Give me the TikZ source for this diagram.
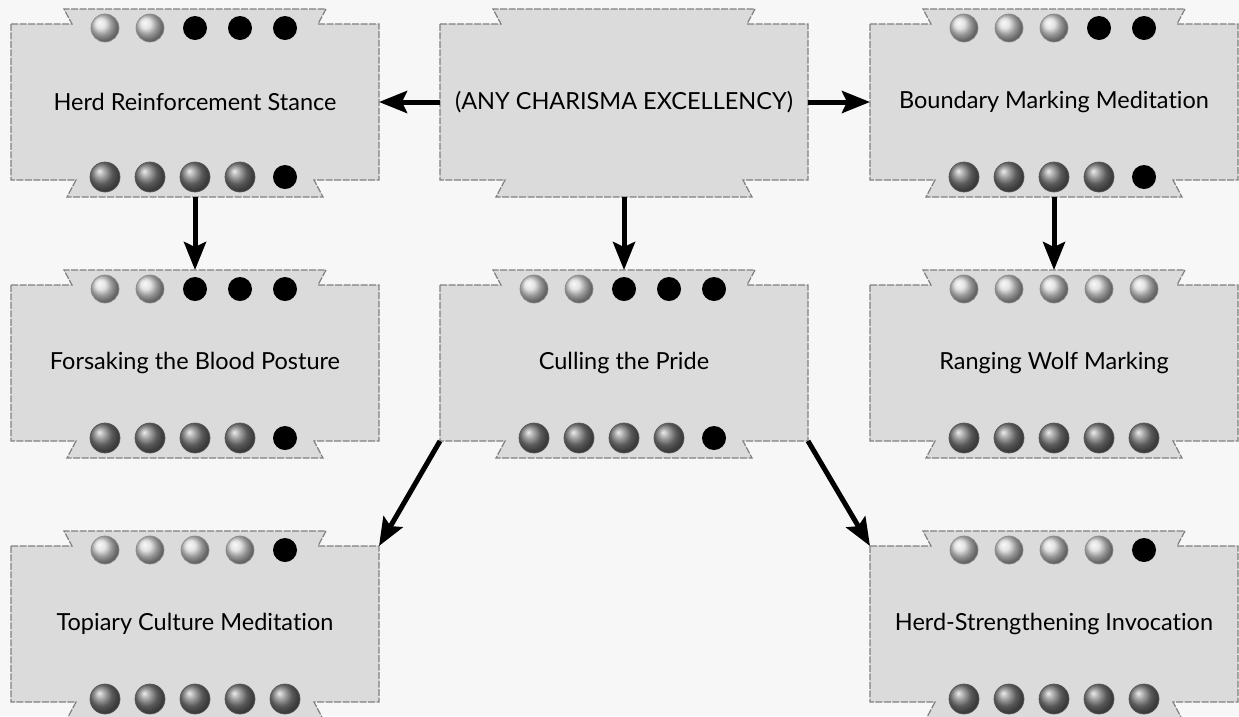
\documentclass[tikz,border=0pt]{standalone}
\usepackage{fontspec}
\usetikzlibrary{arrows.meta,calc}
\newfontfamily\charmfont[Ligatures=NoCommon]{Lato}
\begin{document}
\begin{tikzpicture}[x=1pt, y=-1pt, >={Stealth[length=28pt,width=22pt,inset=5pt]},
  charmbox/.style={draw=none, minimum width=368pt, minimum height=156pt, inner sep=0pt, outer sep=0pt, font=\charmfont\fontsize{23.5}{28}\selectfont},
  charmedge/.style={draw=black!50, line width=1.2pt, dash pattern=on 7pt off 1.5pt, fill=black!14},
  flow/.style={->, line width=5pt},
  lightdot/.style={ball color=black!15, draw=black!45, line width=0.7pt},
  darkdot/.style={ball color=black!50, draw=black!65, line width=0.7pt}]
	\fill[black!3] (0,0) rectangle (1239,716);
	\useasboundingbox (0,0) rectangle (1239,716);
	
	% charm boxes with their top and bottom tabs
	\foreach \n/\x/\y/\t in {hrs/195/102/Herd Reinforcement Stance, any/624/102/{(ANY CHARISMA EXCELLENCY)}, bmm/1054/102/Boundary Marking Meditation, fbp/195/363/Forsaking the Blood Posture, ctp/624/363/Culling the Pride, rwm/1054/363/Ranging Wolf Marking, tcm/195/624/Topiary Culture Meditation, hsi/1054/624/Herd-Strengthening Invocation} {
		\begin{scope}[shift={(\x,\y)}]
			\path[charmedge] (-184,-78) -- (-123,-78) -- (-131,-93) -- (131,-93) -- (123,-78) -- (184,-78) -- (184,78) -- (119,78) -- (128,95) -- (-128,95) -- (-119,78) -- (-184,78) -- cycle;
			\coordinate (\n-top) at (0,-93);
			\coordinate (\n-bot) at (0,95);
		\end{scope}
		\node[charmbox] (\n) at (\x,\y) {\t};
	}
	
	% dots: first \a on top are light, first \b below are dark, the rest black
	\foreach \n/\a/\b in {hrs/2/4, bmm/3/4, fbp/2/4, ctp/2/4, rwm/5/5, tcm/4/5, hsi/4/5} {
		\foreach \i in {1,...,5} {
			\ifnum\i>\a\relax
				\fill[black] ($(\n.north)+(\i*45-135,4)$) circle (12);
			\else
				\shadedraw[lightdot] ($(\n.north)+(\i*45-135,4)$) circle (14);
			\fi
			\ifnum\i>\b\relax
				\fill[black] ($(\n.south)+(\i*45-135,-3)$) circle (12);
			\else
				\shadedraw[darkdot] ($(\n.south)+(\i*45-135,-3)$) circle (15);
			\fi
		}
	}
	
	\draw[flow] (any.west) -- (hrs.east);
	\draw[flow] (any.east) -- (bmm.west);
	\draw[flow] (hrs-bot) -- (fbp-top);
	\draw[flow] (any-bot) -- (ctp-top);
	\draw[flow] (bmm-bot) -- (rwm-top);
	\draw[flow] (ctp.south west) -- (tcm.north east);
	\draw[flow] (ctp.south east) -- (hsi.north west);
	
\end{tikzpicture}
\end{document}
